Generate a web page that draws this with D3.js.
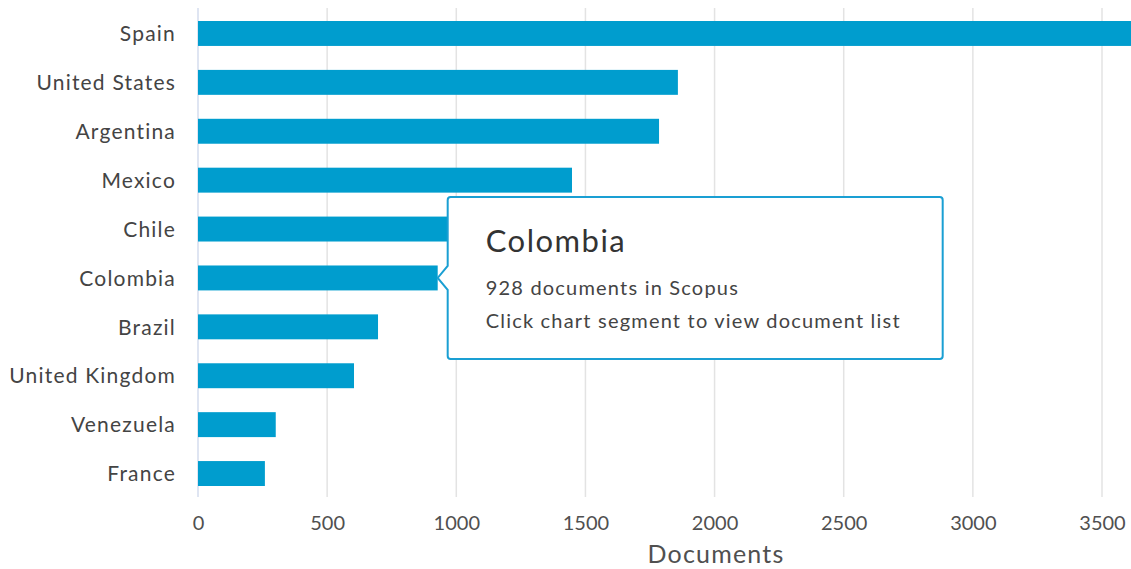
<!DOCTYPE html>
<html>
<head>
<meta charset="utf-8">
<script src="https://cdn.jsdelivr.net/npm/d3@7"></script>
<style>
  body { margin: 0; background: #fff; }
  svg { display: block; font-family: Lato, "Open Sans", sans-serif; }
</style>
</head>
<body>
<svg id="chart" width="1131" height="569"></svg>
<script>
var countries = ['Spain', 'United States', 'Argentina', 'Mexico', 'Chile', 'Colombia',
                 'Brazil', 'United Kingdom', 'Venezuela', 'France'];
var documents = [3620, 1858, 1785, 1448, 1150, 928, 697, 604, 301, 259];
var xTicks = [0, 500, 1000, 1500, 2000, 2500, 3000, 3500];
var hovered = 'Colombia';

var svg = d3.select('#chart');
var barColor = '#009dce';

var x = d3.scaleLinear().domain([0, 3500]).range([198, 1102]);
var y = d3.scaleBand().domain(countries).range([21, 486])
  .paddingInner(0.49).paddingOuter(0);

// grid
svg.append('g').selectAll('line').data(xTicks).enter().append('line')
  .attr('x1', function(d) { return x(d); })
  .attr('x2', function(d) { return x(d); })
  .attr('y1', 8).attr('y2', 497)
  .attr('stroke', function(d) { return d === 0 ? '#d5dcee' : '#e3e3e3'; })
  .attr('stroke-width', 1.5);

// tick labels
var xAxis = d3.axisBottom(x).tickValues(xTicks).tickFormat(d3.format('d'))
  .tickSize(0).tickPadding(0);
var ax = svg.append('g').attr('transform', 'translate(0,530)').call(xAxis);
ax.select('.domain').remove();
ax.selectAll('text')
  .attr('font-family', 'Lato, sans-serif')
  .attr('font-size', 20).attr('fill', '#505050').attr('dy', 0);

svg.append('text')
  .attr('x', 716).attr('y', 563)
  .attr('text-anchor', 'middle')
  .attr('font-size', 25).attr('letter-spacing', 1.2).attr('fill', '#505050')
  .text('Documents');

// bars
svg.append('g').selectAll('rect').data(countries).enter().append('rect')
  .attr('x', x(0))
  .attr('y', function(d) { return y(d); })
  .attr('width', function(d, i) { return x(documents[i]) - x(0); })
  .attr('height', y.bandwidth())
  .attr('fill', barColor);

// category labels
var yAxis = d3.axisLeft(y).tickSize(0).tickPadding(0);
var ay = svg.append('g').attr('transform', 'translate(176,1)').call(yAxis);
ay.select('.domain').remove();
ay.selectAll('text')
  .attr('font-family', 'Lato, sans-serif')
  .attr('font-size', 21).attr('letter-spacing', 1.2).attr('fill', '#444');

// tooltip
var hi = countries.indexOf(hovered);
var tipX = x(documents[hi]);
var tipY = y(hovered) + y.bandwidth() / 2;
var bx = tipX + 10, by = 197, bw = 495, bh = 162, r = 3;
var tip = svg.append('g');
var p = d3.path();
p.moveTo(bx + r, by);
p.lineTo(bx + bw - r, by);
p.quadraticCurveTo(bx + bw, by, bx + bw, by + r);
p.lineTo(bx + bw, by + bh - r);
p.quadraticCurveTo(bx + bw, by + bh, bx + bw - r, by + bh);
p.lineTo(bx + r, by + bh);
p.quadraticCurveTo(bx, by + bh, bx, by + bh - r);
p.lineTo(bx, tipY + 12);
p.lineTo(tipX, tipY);
p.lineTo(bx, tipY - 12);
p.lineTo(bx, by + r);
p.quadraticCurveTo(bx, by, bx + r, by);
p.closePath();
tip.append('path').attr('d', p.toString())
  .attr('fill', '#fff').attr('stroke', '#1a9fd3').attr('stroke-width', 2);
tip.append('text').attr('x', bx + 38).attr('y', 252)
  .attr('font-size', 31).attr('letter-spacing', 1.5).attr('fill', '#333').text(hovered);
tip.append('text').attr('x', bx + 38).attr('y', 295)
  .attr('font-size', 20).attr('letter-spacing', 1.2).attr('fill', '#444')
  .text(documents[hi] + ' documents in Scopus');
tip.append('text').attr('x', bx + 38).attr('y', 328)
  .attr('font-size', 20).attr('letter-spacing', 1.2).attr('fill', '#444')
  .text('Click chart segment to view document list');
</script>
</body>
</html>
